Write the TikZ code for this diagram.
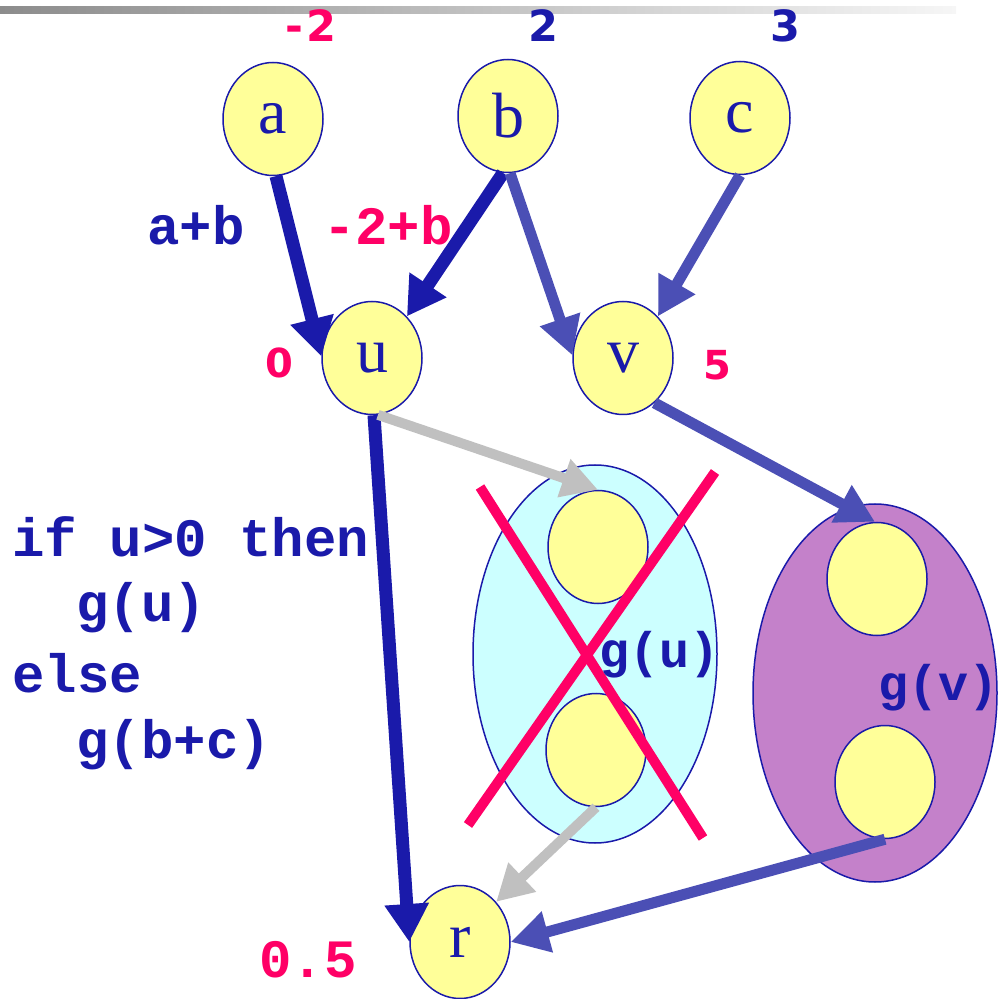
\documentclass[tikz,border=0pt]{standalone}
\usepackage{fontspec}
\setmainfont{Liberation Serif}
\newfontfamily\monof{Liberation Mono}
\newfontfamily\sansf{DejaVu Sans}
\usetikzlibrary{shapes.geometric,arrows.meta}
\definecolor{dblue}{RGB}{26,26,170}
\definecolor{mblue}{RGB}{75,79,181}
\definecolor{pinkc}{RGB}{255,0,102}
\definecolor{lgray}{RGB}{192,192,192}
\definecolor{yel}{RGB}{255,255,153}
\definecolor{cyanc}{RGB}{204,255,255}
\definecolor{purp}{RGB}{196,129,202}
\definecolor{shadeL}{RGB}{140,140,140}
\definecolor{shadeR}{RGB}{246,246,246}
\begin{document}
\begin{tikzpicture}[x=0.5pt,y=-0.5pt,
 vnode/.style={ellipse,draw=dblue,line width=0.75pt,fill=yel,minimum width=50pt,minimum height=56.5pt,inner sep=0pt,text=dblue,font=\fontsize{32}{32}\selectfont},
 group/.style={ellipse,draw=dblue,line width=0.75pt,minimum width=122pt,minimum height=189pt,inner sep=0pt},
 darr/.style={draw=dblue,line width=6.5pt,-{Triangle[length=19pt,width=21pt]}},
 marr/.style={draw=mblue,line width=5.5pt,-{Triangle[length=19pt,width=20pt]}},
 garr/.style={draw=lgray,line width=5pt,-{Triangle[length=18pt,width=19pt]}},
 code/.style={text=dblue,font=\monof\bfseries\fontsize{27}{27}\selectfont,anchor=base west,inner sep=0pt},
 monolab/.style={font=\monof\bfseries\fontsize{27}{27}\selectfont,anchor=base,inner sep=0pt},
 glab/.style={text=dblue,font=\monof\bfseries\fontsize{25}{25}\selectfont,anchor=base,inner sep=0pt},
 toplab/.style={font=\sansf\bfseries\fontsize{21.5}{21.5}\selectfont,anchor=base,inner sep=0pt},
 sidelab/.style={text=pinkc,font=\sansf\bfseries\fontsize{20}{20}\selectfont,anchor=base,inner sep=0pt},
 cross/.style={draw=pinkc,line width=5pt}
]
\useasboundingbox (0,0) rectangle (1001,999);
\shade[left color=shadeL,right color=shadeR] (0,7) rectangle (956,14);

% groups
\node[group,fill=cyanc] (gu) at (595,654) {};
\node[group,fill=purp] (gv) at (875,693) {};
\node[vnode] (gu1) at (598,547) {};
\node[vnode] (gu2) at (596,750) {};
\node[vnode] (gv1) at (877,579) {};
\node[vnode] (gv2) at (885,782) {};

% main nodes
\node[vnode] (a) at (273,119) {a};
\node[vnode] (b) at (508,116) {b};
\node[vnode] (c) at (740,118) {c};
\node[vnode] (u) at (372,358) {u};
\node[vnode] (v) at (623,358) {v};
\node[vnode] (r) at (460,942) {r};

% connectors
\draw[darr] (a.-87) -- (u.178);
\draw[darr] (b.-95) -- (u.50);
\draw[marr] (b.-88) -- (v.177);
\draw[marr] (c.-90) -- (v.50);
\draw[darr] (u.-88) -- (r.180);
\draw[garr] (u.-84) -- (gu1.90);
\draw[marr] (v.-55) -- (gv1.92);
\draw[garr] (gu2.-90) -- (r.48);
\draw[marr] (gv2.-90) -- (r.0);

% cross
\coordinate (x1) at (480,487);
\coordinate (x2) at (703,838);
\coordinate (x3) at (715,472);
\coordinate (x4) at (468,825);
\draw[cross] (x1) -- (x2);
\draw[cross] (x3) -- (x4);

% labels
\node[glab] (gut) at (660,668) {g(u)};
\node[glab] (gvt) at (938,700) {g(v)};
\node[toplab,text=pinkc] (la) at (311,42) {-\kern2pt2};
\node[toplab,text=dblue] (lb) at (543,42) {2};
\node[toplab,text=dblue] (lc) at (785,42) {3};
\node[monolab,text=dblue] (eab) at (196,245) {a+b};
\node[monolab,text=pinkc] (ebu) at (388,245) {-2+b};
\node[sidelab] (lu) at (279,378) {0};
\node[sidelab] (lv) at (717,380) {5};
\node[monolab,text=pinkc] (lr) at (308,977) {0.5};
\node[code] (c1) at (12,557) {if u>0 then};
\node[code] (c2) at (76,622) {g(u)};
\node[code] (c3) at (12,692) {else};
\node[code] (c4) at (76,758) {g(b+c)};
\end{tikzpicture}
\end{document}
